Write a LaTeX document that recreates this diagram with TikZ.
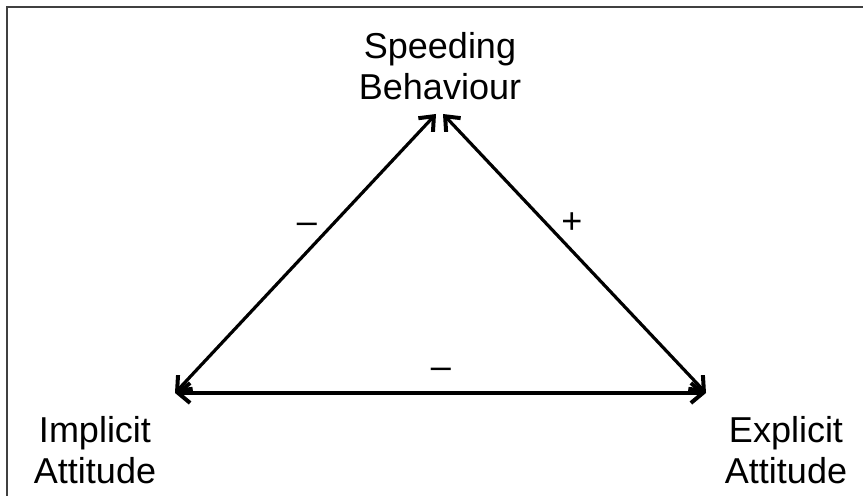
\documentclass[tikz,border=0pt]{standalone}
\usepackage{fontspec}
\setmainfont{Liberation Sans}
\usetikzlibrary{arrows.meta}

\begin{document}
\begin{tikzpicture}[
    x=0.5pt, y=-0.5pt,
    concept/.style={align=center, inner sep=0pt, font=\fontsize{18}{20.7}\selectfont},
    sign/.style={inner sep=0pt, font=\fontsize{18}{20.7}\selectfont},
    link/.style={{Straight Barb[length=6pt,width=10pt,line width=2pt]}-{Straight Barb[length=6pt,width=10pt,line width=2pt]},
                 line width=1.6pt},
    frame/.style={draw=black!75, line width=1.2pt}
]
    \useasboundingbox (0,0) rectangle (863,496);
    \draw[frame] (7,7) rectangle (880,520);

    % Concepts
    \node[concept] (speed) at (440,66) {Speeding\\Behaviour};
    \node[concept] (implicit) at (95,450) {Implicit\\Attitude};
    \node[concept] (explicit) at (786,450) {Explicit\\Attitude};

    % Arrow ends
    \coordinate (topL) at (436,114);
    \coordinate (topR) at (443,114);
    \coordinate (left) at (175,393);
    \coordinate (right) at (706,393);

    % Links
    \draw[link] (left) -- (topL);
    \draw[link] (right) -- (topR);
    \draw[link] (left) -- (right);

    % Signs
    \node[sign] (s1) at (307,228) {\textendash};
    \node[sign] (s2) at (572,223) {+};
    \node[sign] (s3) at (441,373) {\textendash};

\end{tikzpicture}
\end{document}
